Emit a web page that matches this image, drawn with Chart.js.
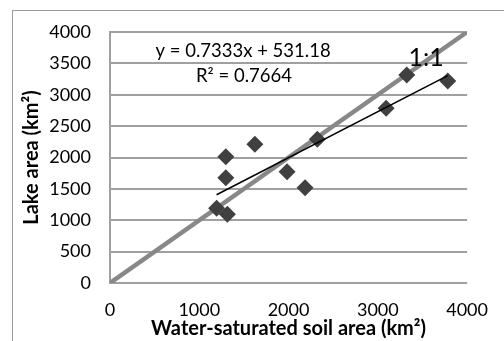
<!DOCTYPE html>
<html>
<head>
<meta charset="utf-8">
<script src="https://cdn.jsdelivr.net/npm/chart.js@4.4.1/dist/chart.umd.min.js"></script>
<style>
  html, body { margin: 0; padding: 0; background: #fff; }
  #wrap { position: relative; width: 504px; height: 341px; overflow: hidden; }
  #frame { position: absolute; left: 12px; top: 10px; width: 600px; height: 400px; border: 1px solid #9a9a9a; }
  #chart { position: absolute; left: 0; top: 0; }
</style>
</head>
<body>
<div id="wrap">
  <div id="frame"></div>
  <canvas id="chart" width="504" height="341"></canvas>
</div>
<script>
// --- data ---
const soilArea = [1194, 1315, 1297, 1297, 1623, 1983, 2185, 2322, 3093, 3324, 3783];
const lakeArea = [1190, 1095, 2013, 1678, 2210, 1774, 1519, 2290, 2784, 3315, 3219];
const oneToOneX = [0, 4000];
const oneToOneY = [0, 4000];
const trendSlope = 0.7333;
const trendIntercept = 531.18;
const trendX = [Math.min(...soilArea), Math.max(...soilArea)];
const xTickValues = [0, 1000, 2000, 3000, 4000];
const yTickValues = [0, 500, 1000, 1500, 2000, 2500, 3000, 3500, 4000];

const FONT = 'Lato, "Open Sans", sans-serif';

const pts = (xs, ys) => xs.map((x, i) => ({ x, y: ys[i] }));

// text labels anchored to data coordinates
const labelPlugin = {
  id: 'labels',
  afterDatasetsDraw(chart) {
    const { ctx, scales: { x, y } } = chart;
    ctx.save();
    ctx.fillStyle = '#000';
    ctx.textAlign = 'center';
    ctx.textBaseline = 'middle';
    ctx.font = '18.5px ' + FONT;
    ctx.fillText('y = 0.7333x + 531.18', x.getPixelForValue(1490), y.getPixelForValue(3700));
    ctx.fillText('R² = 0.7664', x.getPixelForValue(1500), y.getPixelForValue(3300));
    ctx.font = '25px ' + FONT;
    ctx.fillText('1:1', x.getPixelForValue(3540), y.getPixelForValue(3580));
    ctx.restore();
  }
};

new Chart(document.getElementById('chart'), {
  type: 'scatter',
  data: {
    datasets: [
      {
        label: 'Lake area',
        data: pts(soilArea, lakeArea),
        pointStyle: 'rectRot',
        pointRadius: 8.5,
        pointHoverRadius: 8.5,
        backgroundColor: '#404040',
        borderColor: '#404040',
        borderWidth: 0,
        order: 1
      },
      {
        label: 'Trend',
        data: pts(trendX, trendX.map(v => trendSlope * v + trendIntercept)),
        showLine: true,
        borderColor: '#000',
        borderWidth: 1.5,
        pointRadius: 0,
        order: 0
      },
      {
        label: '1:1',
        data: pts(oneToOneX, oneToOneY),
        showLine: true,
        borderColor: '#888888',
        borderWidth: 4.5,
        pointRadius: 0,
        order: 2
      }
    ]
  },
  options: {
    responsive: false,
    animation: false,
    layout: { padding: { left: 0, right: 30, top: 32, bottom: 0 } },
    plugins: { legend: { display: false }, tooltip: { enabled: false } },
    scales: {
      x: {
        type: 'linear',
        min: 0, max: 4000,
        afterBuildTicks: s => { s.ticks = xTickValues.map(v => ({ value: v })); },
        afterFit: s => { s.height = 58; },
        grid: { display: false, drawTicks: false },
        border: { display: false },
        ticks: { color: '#000', font: { family: FONT, size: 18 }, padding: 16, maxRotation: 0, callback: v => String(v) },
        title: {
          display: true,
          text: 'Water-saturated soil area (km²)',
          color: '#000',
          font: { family: FONT, size: 20, weight: 'bold' },
          padding: { top: 0, bottom: 0 }
        }
      },
      y: {
        type: 'linear',
        min: 0, max: 4000,
        afterBuildTicks: s => { s.ticks = yTickValues.map(v => ({ value: v })); },
        afterFit: s => { s.width = 110; },
        grid: { color: '#a0a0a0', lineWidth: 2, drawTicks: false },
        border: { display: true, color: '#a0a0a0', width: 2 },
        ticks: { color: '#000', font: { family: FONT, size: 18 }, padding: 19, callback: v => String(v) },
        title: {
          display: true,
          text: 'Lake area (km²)',
          color: '#000',
          font: { family: FONT, size: 20, weight: 'bold' },
          padding: { top: 20, bottom: 0 }
        }
      }
    }
  },
  plugins: [labelPlugin]
});
</script>
</body>
</html>
